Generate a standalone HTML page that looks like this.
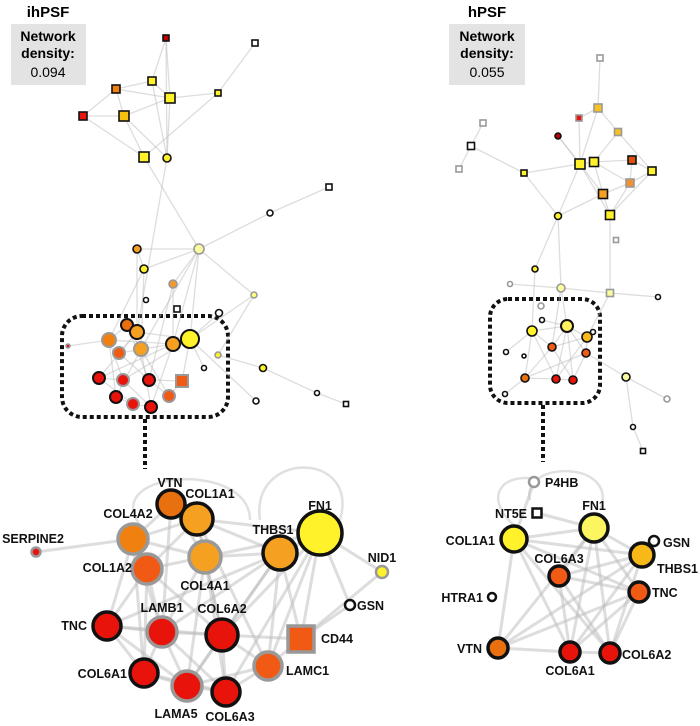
<!DOCTYPE html>
<html><head><meta charset="utf-8">
<style>
html,body{margin:0;padding:0;background:#fff;}
svg{display:block;font-family:"Liberation Sans",sans-serif;}
.lbl{font-size:12.5px;font-weight:bold;fill:#111;}
</style></head>
<body>
<svg id="net" width="700" height="726" viewBox="0 0 700 726">
  <text x="48" y="17" text-anchor="middle" font-size="15" font-weight="bold">ihPSF</text>
  <rect x="11" y="24" width="75" height="61" fill="#e3e3e3"/>
  <text x="48" y="41" text-anchor="middle" font-size="14" font-weight="bold">Network</text>
  <text x="48" y="58" text-anchor="middle" font-size="14" font-weight="bold">density:</text>
  <text x="48" y="77" text-anchor="middle" font-size="14">0.094</text>

  <text x="487" y="17" text-anchor="middle" font-size="15" font-weight="bold">hPSF</text>
  <rect x="449" y="24" width="76" height="61" fill="#e3e3e3"/>
  <text x="487" y="41" text-anchor="middle" font-size="14" font-weight="bold">Network</text>
  <text x="487" y="58" text-anchor="middle" font-size="14" font-weight="bold">density:</text>
  <text x="487" y="77" text-anchor="middle" font-size="14">0.055</text>

  <rect x="62" y="316" width="166" height="101" rx="20" fill="none" stroke="#111" stroke-width="4" stroke-dasharray="4,3"/>
  <line x1="145" y1="419" x2="145" y2="469" stroke="#111" stroke-width="4" stroke-dasharray="4,3"/>
  <rect x="490" y="299" width="110" height="104" rx="18" fill="none" stroke="#111" stroke-width="4" stroke-dasharray="4,3"/>
  <line x1="543" y1="405" x2="543" y2="462" stroke="#111" stroke-width="4" stroke-dasharray="4,3"/>

  <g id="edges"></g>
  <g id="nodes"></g>
  <g id="labels"></g>
</svg>
<script>
var NS="http://www.w3.org/2000/svg";
var R="#e8140c",DR="#c00000",OR="#f05a14",O="#f08010",LO="#f5a020",Y="#fff22a",PY="#fafaa0",W="#ffffff",DO="#e8700f",YO="#f8b818";
var K="#111",G="#999";
var tlX=[166,255,152,116,170,218,83,124,144,167,329,270,199,137,144,173,146,177,254,219,127,137,109,119,141,173,190,68,218,99,123,149,182,169,116,133,151,204,263,256,317,346];
var tlY=[38,43,81,89,98,93,116,116,157,158,187,213,249,249,269,284,300,309,295,313,325,332,340,353,349,344,339,346,355,378,380,380,381,396,397,404,407,368,368,401,393,404];
var tlR=[3,3,4,4,5,3,4,5,5,4,3,3,5,4,4,4,2.5,3,3,3.5,6,7,7,6,7,7,9,2,3,6,6,6,6,6,6,6,6,2.5,3.5,3,2.5,2.5];
var tlF=[DR,W,Y,O,Y,Y,R,"#f5c010",Y,Y,W,W,PY,LO,Y,"#f09a30",W,W,"#ffff80",W,DO,LO,O,OR,LO,LO,Y,R,Y,R,R,R,OR,OR,R,R,R,W,Y,W,W,W];
var tlS=[K,K,K,K,K,K,K,K,K,K,K,K,G,K,K,G,K,K,G,K,K,K,G,G,G,K,K,G,G,K,G,K,G,G,K,G,K,K,K,K,K,K];
var tlQ=[1,1,1,1,1,1,1,1,1,0,1,0,0,0,0,0,0,1,0,0,0,0,0,0,0,0,0,0,0,0,0,0,1,0,0,0,0,0,0,0,0,1];
var tlE=[[0,2],[0,4],[0,9],[1,5],[5,4],[5,8],[3,2],[3,4],[3,7],[3,6],[6,7],[6,8],[7,8],[7,4],[2,4],[2,9],[4,9],[7,9],[8,12],[9,21],[12,11],[11,10],[12,13],[12,14],[12,15],[12,25],[12,26],[12,18],[12,24],[13,14],[13,21],[14,22],[14,24],[15,31],[15,25],[18,26],[18,28],[19,26],[28,38],[38,40],[40,41],[26,39],[26,37],[27,22],[20,22],[20,24],[21,29],[22,34],[23,31],[24,33],[25,36],[26,32],[29,35],[30,36],[31,32],[23,25],[22,30],[21,26],[24,34],[20,31],[25,29],[26,30],[21,23],[24,36],[22,25],[31,33],[29,30],[34,35],[35,36],[32,33]];
var trX=[600,598,579,618,558,483,471,459,524,580,594,632,652,630,603,610,558,616,535,510,561,610,658,541,542,532,567,587,593,552,586,506,524,525,556,573,505,626,667,633,643];
var trY=[58,108,118,132,136,123,146,169,173,164,162,160,171,183,194,215,216,240,269,284,288,293,297,306,320,331,326,337,332,347,353,352,356,378,379,380,394,377,399,427,451];
var trR=[3,4,3,3.5,3,3,3.5,3,3,5,4.5,4,4,4,4.5,4.5,3.5,2.5,3,2.5,4,3.5,2.5,3,2.5,5,6,5,2.5,4,4,2.5,2,4,4,4,2.5,4,3,2.5,2.5];
var trF=[W,"#f8c020",R,"#f8c020",DR,W,W,W,Y,Y,Y,"#e05010",Y,"#f59030",LO,Y,Y,W,Y,W,PY,PY,W,W,W,Y,"#fff060",YO,W,OR,OR,W,W,DO,R,R,W,PY,W,W,W];
var trS=[G,G,G,G,K,G,K,G,K,K,K,K,K,G,K,K,K,G,K,G,G,G,K,G,K,K,K,K,K,K,K,K,K,K,K,K,K,K,G,K,K];
var trQ=[1,1,1,1,0,1,1,1,1,1,1,1,1,1,1,1,0,1,0,0,0,1,0,0,0,0,0,0,0,0,0,0,0,0,0,0,0,0,0,0,1];
var trE=[[0,1],[1,3],[1,2],[1,9],[2,9],[3,10],[3,12],[4,9],[4,14],[5,6],[6,7],[6,8],[8,9],[8,16],[9,10],[9,16],[9,15],[10,14],[10,11],[10,13],[11,12],[11,13],[12,13],[12,15],[13,14],[13,15],[14,16],[14,15],[15,21],[16,18],[16,20],[18,25],[19,20],[20,21],[21,22],[20,26],[20,29],[21,27],[25,26],[25,33],[26,27],[30,37],[37,38],[37,39],[39,40],[31,25],[36,33],[24,26],[25,29],[25,34],[26,29],[26,30],[26,35],[27,30],[27,34],[29,33],[29,35],[30,33],[33,34],[34,35],[26,34],[27,29],[30,35]];
var dlN=["VTN","COL1A1","COL4A2","FN1","THBS1","SERPINE2","NID1","COL1A2","COL4A1","GSN","TNC","LAMB1","COL6A2","CD44","COL6A1","LAMC1","LAMA5","COL6A3"];
var dlX=[171,197,133,320,280,36,382,147,205,350,107,162,222,301,144,268,187,226];
var dlY=[504,519,539,533,553,552,572,569,557,605,626,632,635,639,673,666,686,692];
var dlR=[14,16,15,22,17,4.5,6,15,16,5,14,15,16,13,14,14,15,14];
var dlF=[DO,LO,O,Y,LO,R,Y,OR,LO,W,R,R,R,OR,R,OR,R,R];
var dlS=[K,K,G,K,K,G,G,G,G,K,K,G,K,G,K,G,G,K];
var dlQ=[0,0,0,0,0,0,0,0,0,0,0,0,0,1,0,0,0,0];
var dlLX=[170,210,128,320,273,33,382,132,205,357,87,162,222,321,127,286,176,230];
var dlLY=[487,498,518,510,534,543,562,572,590,610,630,612,613,643,678,675,718,721];
var dlLA=["middle","middle","middle","middle","middle","middle","middle","end","middle","start","end","middle","middle","start","end","start","middle","middle"];
var dlE=[[5,2],[3,6],[6,13],[3,9],[9,13],[3,4],[3,1],[3,8],[3,12],[3,15],[3,13],[3,17],[4,1],[4,8],[4,12],[4,15],[4,16],[4,11],[1,0],[1,2],[1,8],[1,7],[1,12],[0,2],[0,8],[2,7],[2,8],[2,10],[7,8],[7,11],[7,10],[7,14],[8,12],[8,11],[10,11],[10,14],[10,16],[11,12],[11,14],[11,16],[11,17],[12,13],[12,15],[12,17],[12,16],[13,15],[14,16],[16,17],[15,17],[15,16],[10,12],[14,17],[2,11],[8,17],[0,11],[1,15],[4,13],[7,12],[2,14],[4,10],[8,16]];
var drN=["P4HB","NT5E","FN1","COL1A1","GSN","THBS1","COL6A3","TNC","HTRA1","VTN","COL6A1","COL6A2"];
var drX=[534,537,594,514,654,642,559,639,492,498,570,610];
var drY=[482,513,528,539,541,555,576,592,597,648,652,653];
var drR=[5,4.5,14,13,5,12,10,10,4,10,10,10];
var drF=[W,W,"#fcf560",Y,W,YO,OR,OR,W,DO,R,R];
var drS=[G,K,K,K,K,K,K,K,K,K,K,K];
var drQ=[0,1,0,0,0,0,0,0,0,0,0,0];
var drLX=[545,527,594,495,663,657,559,652,483,482,570,622];
var drLY=[487,518,510,545,547,573,563,597,602,653,675,659];
var drLA=["start","end","middle","end","start","start","middle","start","end","end","middle","start"];
var drE=[[0,3],[3,2],[3,5],[3,9],[3,10],[3,11],[3,7],[2,5],[2,10],[2,11],[2,9],[2,7],[2,6],[5,6],[5,9],[5,10],[5,11],[7,6],[7,9],[7,10],[7,11],[6,10],[6,11],[9,10],[10,11],[5,4],[1,2]];

var gE=document.getElementById('edges'),gN=document.getElementById('nodes'),gL=document.getElementById('labels');
function drawSet(tag,X,Y,Rr,F,S,Q,E,sw,ew,names,LX,LY,LA){
  E.forEach(function(e){
    var l=document.createElementNS(NS,'line');
    l.setAttribute('x1',X[e[0]]);l.setAttribute('y1',Y[e[0]]);
    l.setAttribute('x2',X[e[1]]);l.setAttribute('y2',Y[e[1]]);
    l.setAttribute('stroke','#bbb');l.setAttribute('stroke-opacity','0.5');l.setAttribute('stroke-width',ew);
    
    
    gE.appendChild(l);
  });
  for(var i=0;i<X.length;i++){
    var el,r=Rr[i];
    if(Q[i]){el=document.createElementNS(NS,'rect');
      el.setAttribute('x',X[i]-r);el.setAttribute('y',Y[i]-r);el.setAttribute('width',2*r);el.setAttribute('height',2*r);}
    else{el=document.createElementNS(NS,'circle');
      el.setAttribute('cx',X[i]);el.setAttribute('cy',Y[i]);el.setAttribute('r',r);}
    el.setAttribute('fill',F[i]);el.setAttribute('stroke',S[i]);el.setAttribute('stroke-width',sw(r));
    
    
    gN.appendChild(el);
    if(names){
      var t=document.createElementNS(NS,'text');
      t.setAttribute('x',LX[i]);t.setAttribute('y',LY[i]);t.setAttribute('text-anchor',LA[i]);
      t.setAttribute('class','lbl');t.textContent=names[i];
      
      
      gL.appendChild(t);
    }
  }
}
[["M140,525 C100,470 250,460 250,520","ihpsf"],["M260,520 C250,450 360,450 340,520","ihpsf"],["M530,500 C520,460 620,460 600,510","hpsf"],["M520,530 C480,500 500,470 540,480","hpsf"]].forEach(function(p){
  var path=document.createElementNS(NS,'path');
  path.setAttribute('d',p[0]);path.setAttribute('fill','none');path.setAttribute('stroke','#e0e0e0');path.setAttribute('stroke-width','2.5');
  
  
  gE.appendChild(path);
});
drawSet('ihpsf-overview',tlX,tlY,tlR,tlF,tlS,tlQ,tlE,function(r){return r>5?2:1.6;},1.3);
drawSet('hpsf-overview',trX,trY,trR,trF,trS,trQ,trE,function(r){return r>5?2:1.6;},1.3);
drawSet('ihpsf-detail',dlX,dlY,dlR,dlF,dlS,dlQ,dlE,function(r){return r>8?3.5:2.5;},3,dlN,dlLX,dlLY,dlLA);
drawSet('hpsf-detail',drX,drY,drR,drF,drS,drQ,drE,function(r){return r>8?3.5:2.5;},3,drN,drLX,drLY,drLA);
</script>
</body></html>
